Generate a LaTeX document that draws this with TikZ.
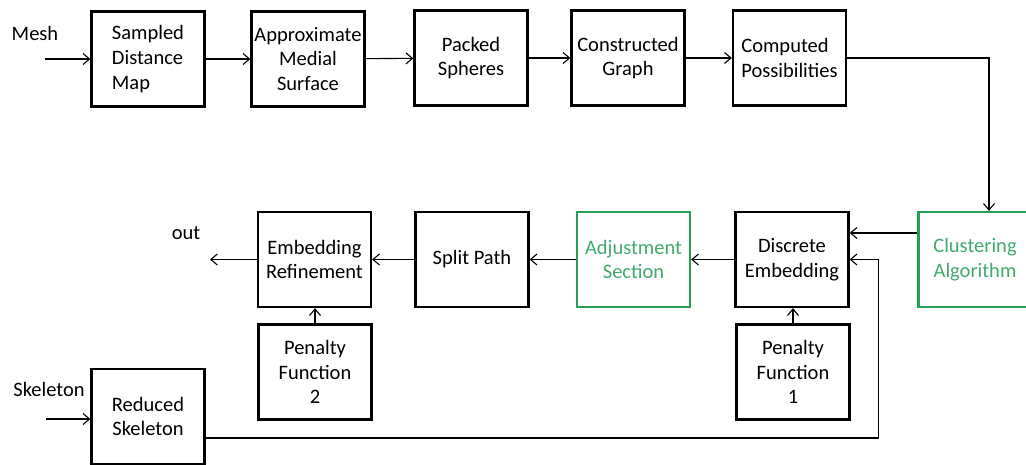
\documentclass[tikz,border=0pt]{standalone}
\usepackage{fontspec}
\setmainfont{Carlito}
\usetikzlibrary{arrows.meta}

\definecolor{procgreen}{RGB}{38,158,88}
\definecolor{proctext}{RGB}{66,170,108}

\tikzset{
	stage/.style={draw, line width=2.3pt, minimum width=113pt, minimum height=95pt,
		inner sep=2pt, align=center, font=\fontsize{20.5}{24.6}\selectfont},
	greenstage/.style={stage, draw=procgreen, text=proctext},
	flow/.style={line width=1.1pt, -{Straight Barb[length=6.5pt,width=11pt]}},
	tag/.style={font=\fontsize{20.5}{24.6}\selectfont, inner sep=0pt}
}

\begin{document}
\begin{tikzpicture}[x=1pt, y=-1pt]
	\useasboundingbox (0,0) rectangle (1026,465);

	% Top row
	\node[stage, align=left] (sdm) at (148,59) {Sampled\\Distance\\Map};
	\node[stage] (ams) at (308,59) {Approximate\\Medial\\Surface};
	\node[stage] (ps) at (471,58) {Packed\\Spheres};
	\node[stage] (cg) at (628,58) {Constructed\\Graph};
	\node[stage, align=left] (cp) at (789.5,58) {Computed\\Possibilities};

	% Middle row
	\node[greenstage] (ca) at (975,259.5) {Clustering\\Algorithm};
	\node[stage] (de) at (792,259.5) {Discrete\\Embedding};
	\node[greenstage] (as) at (633.5,259.5) {Adjustment\\Section};
	\node[stage] (sp) at (472,259.5) {Split Path};
	\node[stage] (er) at (314.5,259.5) {Embedding\\Refinement};

	% Penalties and skeleton
	\node[stage] (pf2) at (315,372) {Penalty\\Function\\2};
	\node[stage] (pf1) at (793,372) {Penalty\\Function\\1};
	\node[stage] (rs) at (148,416.5) {Reduced\\Skeleton};

	% Inputs and output
	\node[tag] (mesh) at (35,33) {Mesh};
	\node[tag] (skel) at (49,389) {Skeleton};
	\node[tag] (outlbl) at (186,233) {out};
	\coordinate (meshin) at (45,59);
	\coordinate (skelin) at (46,419);
	\coordinate (out) at (210,259.5);

	% Edges
	\draw[flow] (meshin) -- (sdm.west);
	\draw[flow] (sdm) -- (ams);
	\draw[flow] (ams) -- (ps);
	\draw[flow] (ps) -- (cg);
	\draw[flow] (cg) -- (cp);
	\draw[flow] (cp.east) -| ([xshift=14pt]ca.north);
	\draw[flow] ([yshift=26.5pt]ca.west) -- ([yshift=26.5pt]de.east);
	\draw[flow] ([yshift=-21.5pt]rs.east) -| ([xshift=29pt]de.east) -- (de.east);
	\draw[flow] (pf1.north) -- (pf1.north |- de.south);
	\draw[flow] (de) -- (as);
	\draw[flow] (as) -- (sp);
	\draw[flow] (sp) -- (er);
	\draw[flow] (pf2.north) -- (pf2.north |- er.south);
	\draw[flow] (er) -- (out);
	\draw[flow] (skelin) -- (skelin -| rs.west);
\end{tikzpicture}
\end{document}
